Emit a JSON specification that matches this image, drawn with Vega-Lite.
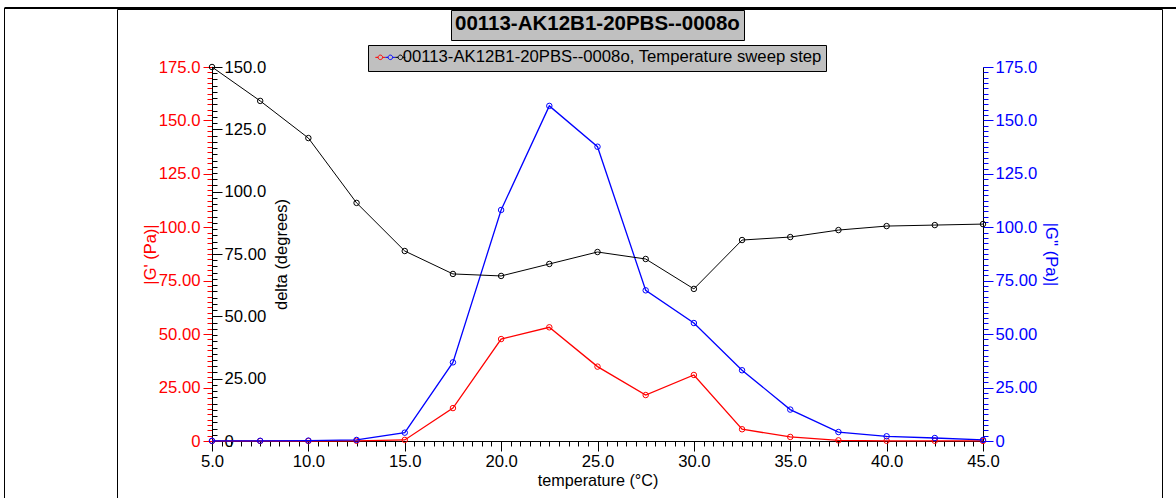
{
  "$schema": "https://vega.github.io/schema/vega-lite/v6.json",
  "width": 1045,
  "height": 495,
  "autosize": {"type": "none"},
  "padding": {"left": 117, "top": 9, "right": 14, "bottom": 0},
  "background": "white",
  "config": {
    "view": {"stroke": "#000000", "strokeWidth": 1},
    "font": "Liberation Sans",
    "axis": {"grid": false, "labelFont": "Liberation Sans", "titleFont": "Liberation Sans", "labelFontSize": 16.7, "titleFontSize": 16.5, "titleFontWeight": "normal", "labelFlush": false, "labelOverlap": false, "tickWidth": 1, "domainWidth": 1},
    "legend": {"labelFont": "Liberation Sans", "titleFont": "Liberation Sans", "labelLimit": 0, "titleLimit": 2000, "cornerRadius": 0}
  },
  "data": {
    "values": [
      {"T": 5, "Gp": 0, "Gpp": 0.1, "delta": 150},
      {"T": 7.5, "Gp": 0, "Gpp": 0.1, "delta": 136.4},
      {"T": 10, "Gp": 0, "Gpp": 0.2, "delta": 121.5},
      {"T": 12.5, "Gp": 0.1, "Gpp": 0.5, "delta": 95.5},
      {"T": 15, "Gp": 0.5, "Gpp": 3.9, "delta": 76.2},
      {"T": 17.5, "Gp": 15.4, "Gpp": 36.8, "delta": 67.0},
      {"T": 20, "Gp": 47.7, "Gpp": 108.1, "delta": 66.2},
      {"T": 22.5, "Gp": 53.2, "Gpp": 156.8, "delta": 71.0},
      {"T": 25, "Gp": 34.8, "Gpp": 137.7, "delta": 75.8},
      {"T": 27.5, "Gp": 21.5, "Gpp": 70.5, "delta": 73.0},
      {"T": 30, "Gp": 30.9, "Gpp": 55.2, "delta": 61.0},
      {"T": 32.5, "Gp": 5.5, "Gpp": 33.1, "delta": 80.6},
      {"T": 35, "Gp": 1.9, "Gpp": 14.7, "delta": 81.8},
      {"T": 37.5, "Gp": 0.3, "Gpp": 4.2, "delta": 84.6},
      {"T": 40, "Gp": 0.1, "Gpp": 2.2, "delta": 86.2},
      {"T": 42.5, "Gp": 0.1, "Gpp": 1.4, "delta": 86.6},
      {"T": 45, "Gp": 0.05, "Gpp": 0.5, "delta": 87.0}
    ]
  },
  "resolve": {"scale": {"y": "independent", "x": "independent"}, "axis": {"y": "independent", "x": "independent"}},
  "layer": [
    {
      "resolve": {"scale": {"y": "shared"}, "axis": {"y": "independent", "x": "independent"}},
      "layer": [
        {
          "mark": {"type": "line", "strokeWidth": 1.3, "point": {"filled": false, "size": 30, "strokeWidth": 1}},
          "encoding": {
            "x": {"field": "T", "type": "quantitative", "scale": {"domain": [5, 45], "range": [95, 866], "nice": false, "zero": false},
              "axis": {"orient": "bottom", "offset": -63, "values": [5, 10, 15, 20, 25, 30, 35, 40, 45], "format": ".1f", "tickSize": 10, "tickColor": "#000000", "domainColor": "#000000", "labelColor": "#000000", "labelPadding": 2, "title": "temperature (°C)", "titleFontSize": 16.2, "titlePadding": 3, "titleColor": "#000000"}},
            "y": {"field": "Gp", "type": "quantitative", "scale": {"domain": [0, 175], "range": [432, 58], "nice": false, "zero": true},
              "axis": {"orient": "left", "offset": -95, "values": [0, 25, 50, 75, 100, 125, 150, 175], "labelExpr": "datum.value == 0 ? '0' : (datum.value >= 100 ? format(datum.value, '.1f') : format(datum.value, '.2f'))", "tickSize": 9, "tickColor": "#ff0000", "labelColor": "#ff0000", "domain": false, "labelPadding": 3, "title": "|G' (Pa)|", "titleColor": "#ff0000", "titlePadding": 0}},
            "color": {"datum": "G'", "scale": {"domain": ["G'", "G''", "delta"], "range": ["#ff0000", "#0000ff", "#000000"]},
              "legend": {"orient": "none", "legendX": 251, "legendY": 36, "direction": "horizontal", "columns": 3, "gridAlign": "none", "title": null, "fillColor": "#c0c0c0", "strokeColor": "#000000", "padding": 4, "symbolType": "M-1,0H-0.45M0.45,0H1M0.45,0A0.45,0.45 0 1 1 -0.45,0A0.45,0.45 0 1 1 0.45,0", "symbolSize": 100, "symbolStrokeWidth": 1, "symbolFillColor": "transparent", "labelExpr": "datum.label == 'delta' ? '00113-AK12B1-20PBS--0008o, Temperature sweep step' : ''", "labelFontSize": 16.7, "labelColor": "#000000", "labelOffset": -6, "columnPadding": -6}}
          }
        },
        {
          "mark": {"type": "point", "opacity": 0},
          "encoding": {
            "x": {"field": "T", "type": "quantitative", "scale": {"domain": [5, 45], "range": [95, 866], "nice": false, "zero": false},
              "axis": {"orient": "bottom", "offset": -63, "values": [5, 5.5, 6, 6.5, 7, 7.5, 8, 8.5, 9, 9.5, 10, 10.5, 11, 11.5, 12, 12.5, 13, 13.5, 14, 14.5, 15, 15.5, 16, 16.5, 17, 17.5, 18, 18.5, 19, 19.5, 20, 20.5, 21, 21.5, 22, 22.5, 23, 23.5, 24, 24.5, 25, 25.5, 26, 26.5, 27, 27.5, 28, 28.5, 29, 29.5, 30, 30.5, 31, 31.5, 32, 32.5, 33, 33.5, 34, 34.5, 35, 35.5, 36, 36.5, 37, 37.5, 38, 38.5, 39, 39.5, 40, 40.5, 41, 41.5, 42, 42.5, 43, 43.5, 44, 44.5, 45], "tickSize": 5, "labels": false, "domain": false, "title": null, "tickColor": "#000000"}},
            "y": {"field": "Gp", "type": "quantitative", "scale": {"domain": [0, 175], "range": [432, 58], "nice": false, "zero": true},
              "axis": {"orient": "left", "offset": -95, "values": [0, 2.5, 5, 7.5, 10, 12.5, 15, 17.5, 20, 22.5, 25, 27.5, 30, 32.5, 35, 37.5, 40, 42.5, 45, 47.5, 50, 52.5, 55, 57.5, 60, 62.5, 65, 67.5, 70, 72.5, 75, 77.5, 80, 82.5, 85, 87.5, 90, 92.5, 95, 97.5, 100, 102.5, 105, 107.5, 110, 112.5, 115, 117.5, 120, 122.5, 125, 127.5, 130, 132.5, 135, 137.5, 140, 142.5, 145, 147.5, 150, 152.5, 155, 157.5, 160, 162.5, 165, 167.5, 170, 172.5, 175], "tickSize": 5, "labels": false, "domain": false, "title": null, "tickColor": "#ff0000"}},
            "shape": {"datum": "title", "scale": {"range": ["circle"]},
              "legend": {"orient": "none", "legendX": 334, "legendY": 1, "title": "00113-AK12B1-20PBS--0008o", "titleFontSize": 20.5, "titleFontWeight": "bold", "titleColor": "#000000", "titlePadding": 0, "fillColor": "#c0c0c0", "strokeColor": "#000000", "padding": 4, "symbolSize": 0.01, "symbolOpacity": 0, "symbolStrokeWidth": 0.01, "labelExpr": "''", "labelFontSize": 0.5, "labelOffset": 0.01}}
          }
        }
      ]
    },
    {
      "resolve": {"scale": {"y": "shared"}, "axis": {"y": "independent", "x": "independent"}},
      "layer": [
        {
          "mark": {"type": "line", "strokeWidth": 1.3, "point": {"filled": false, "size": 30, "strokeWidth": 1}},
          "encoding": {
            "x": {"field": "T", "type": "quantitative", "scale": {"domain": [5, 45], "range": [95, 866], "nice": false, "zero": false}, "axis": null},
            "y": {"field": "Gpp", "type": "quantitative", "scale": {"domain": [0, 175], "range": [432, 58], "nice": false, "zero": true},
              "axis": {"orient": "right", "offset": -179, "values": [0, 25, 50, 75, 100, 125, 150, 175], "labelExpr": "datum.value == 0 ? '0' : (datum.value >= 100 ? format(datum.value, '.1f') : format(datum.value, '.2f'))", "tickSize": 10, "tickColor": "#0000ff", "labelColor": "#0000ff", "domainColor": "#000000", "labelPadding": 2, "title": "|G'' (Pa)|", "titleColor": "#0000ff", "titlePadding": 6}},
            "color": {"datum": "G''"}
          }
        },
        {
          "mark": {"type": "point", "opacity": 0},
          "encoding": {
            "x": {"field": "T", "type": "quantitative", "scale": {"domain": [5, 45], "range": [95, 866], "nice": false, "zero": false}, "axis": null},
            "y": {"field": "Gpp", "type": "quantitative", "scale": {"domain": [0, 175], "range": [432, 58], "nice": false, "zero": true},
              "axis": {"orient": "right", "offset": -179, "values": [0, 2.5, 5, 7.5, 10, 12.5, 15, 17.5, 20, 22.5, 25, 27.5, 30, 32.5, 35, 37.5, 40, 42.5, 45, 47.5, 50, 52.5, 55, 57.5, 60, 62.5, 65, 67.5, 70, 72.5, 75, 77.5, 80, 82.5, 85, 87.5, 90, 92.5, 95, 97.5, 100, 102.5, 105, 107.5, 110, 112.5, 115, 117.5, 120, 122.5, 125, 127.5, 130, 132.5, 135, 137.5, 140, 142.5, 145, 147.5, 150, 152.5, 155, 157.5, 160, 162.5, 165, 167.5, 170, 172.5, 175], "tickSize": 5, "labels": false, "domain": false, "title": null, "tickColor": "#0000ff"}}
          }
        }
      ]
    },
    {
      "resolve": {"scale": {"y": "shared"}, "axis": {"y": "independent", "x": "independent"}},
      "layer": [
        {
          "mark": {"type": "line", "strokeWidth": 1, "point": {"filled": false, "size": 30, "strokeWidth": 1}},
          "encoding": {
            "x": {"field": "T", "type": "quantitative", "scale": {"domain": [5, 45], "range": [95, 866], "nice": false, "zero": false}, "axis": null},
            "y": {"field": "delta", "type": "quantitative", "scale": {"domain": [0, 150], "range": [432, 58], "nice": false, "zero": true},
              "axis": {"orient": "right", "offset": -950, "values": [0, 25, 50, 75, 100, 125, 150], "labelExpr": "datum.value == 0 ? '0' : (datum.value >= 100 ? format(datum.value, '.1f') : format(datum.value, '.2f'))", "tickSize": 10, "tickColor": "#000000", "labelColor": "#000000", "domainColor": "#000000", "labelPadding": 2, "title": "delta (degrees)", "titleColor": "#000000", "titleAngle": 270, "titleBaseline": "top", "titlePadding": 8}},
            "color": {"datum": "delta"}
          }
        },
        {
          "mark": {"type": "point", "opacity": 0},
          "encoding": {
            "x": {"field": "T", "type": "quantitative", "scale": {"domain": [5, 45], "range": [95, 866], "nice": false, "zero": false}, "axis": null},
            "y": {"field": "delta", "type": "quantitative", "scale": {"domain": [0, 150], "range": [432, 58], "nice": false, "zero": true},
              "axis": {"orient": "right", "offset": -950, "values": [0, 2.5, 5, 7.5, 10, 12.5, 15, 17.5, 20, 22.5, 25, 27.5, 30, 32.5, 35, 37.5, 40, 42.5, 45, 47.5, 50, 52.5, 55, 57.5, 60, 62.5, 65, 67.5, 70, 72.5, 75, 77.5, 80, 82.5, 85, 87.5, 90, 92.5, 95, 97.5, 100, 102.5, 105, 107.5, 110, 112.5, 115, 117.5, 120, 122.5, 125, 127.5, 130, 132.5, 135, 137.5, 140, 142.5, 145, 147.5, 150], "tickSize": 5, "labels": false, "domain": false, "title": null, "tickColor": "#000000"}}
          }
        }
      ]
    },
    {
      "mark": {"type": "point", "opacity": 0},
      "encoding": {
        "x": {"field": "T", "type": "quantitative", "scale": {"domain": [5, 45], "range": [-113, 1062], "nice": false, "zero": false},
          "axis": {"orient": "top", "offset": 1.5, "ticks": false, "labels": false, "title": null, "domainColor": "#000000", "domainWidth": 2}},
        "y": {"field": "delta", "type": "quantitative", "scale": {"domain": [0, 150], "range": [600, -1.5], "nice": false, "zero": true},
          "axis": {"orient": "left", "offset": 113, "ticks": false, "labels": false, "title": null, "domainColor": "#000000", "domainWidth": 1}}
      }
    }
  ]
}
